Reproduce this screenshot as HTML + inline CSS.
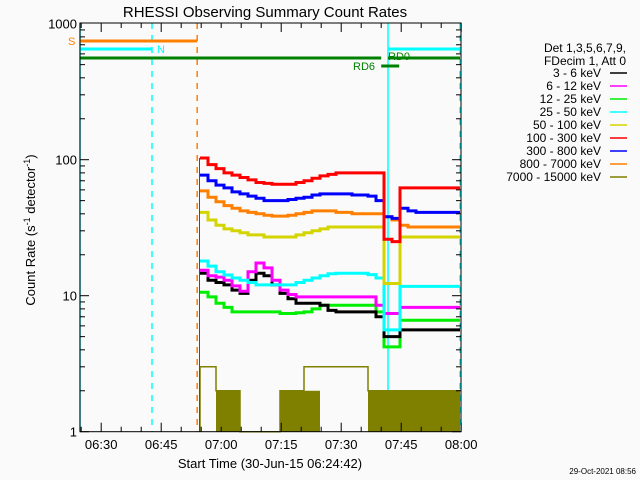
<!DOCTYPE html>
<html><head><meta charset="utf-8"><style>
html,body{margin:0;padding:0;background:#fafafa;}
svg{display:block;font-family:"Liberation Sans",sans-serif;}
</style></head><body>
<svg id="chart" width="640" height="480" viewBox="0 0 640 480">
<rect width="640" height="480" fill="#fafafa"/>
<text x="265" y="17" font-size="15" text-anchor="middle" fill="#000">RHESSI Observing Summary Count Rates</text>
<g id="plot"></g>
<text transform="translate(35,230) rotate(-90)" font-size="13" text-anchor="middle">Count Rate (s<tspan dy="-5" font-size="9">-1</tspan><tspan dy="5"> detector</tspan><tspan dy="-5" font-size="9">-1</tspan><tspan dy="5">)</tspan></text>
<text x="270" y="468" font-size="13" text-anchor="middle">Start Time (30-Jun-15 06:24:42)</text>
<text x="636" y="474" font-size="8" text-anchor="end">29-Oct-2021 08:56</text>
<g id="legend"></g>
</svg>
<script>
// Time bins: minutes since 06:24:42, 2-minute steps starting at 30
const binStart = 30;
const binWidth = 2;
const xTickLabels = ["06:30","06:45","07:00","07:15","07:30","07:45","08:00"];
const xTickMinutes = [5.3,20.3,35.3,50.3,65.3,80.3,95.3];
const yTickLabels = ["1","10","100","1000"];
const yTickValues = [1,10,100,1000];
const seriesNames = ["3 - 6 keV","6 - 12 keV","12 - 25 keV","25 - 50 keV","50 - 100 keV","100 - 300 keV","300 - 800 keV","800 - 7000 keV","7000 - 15000 keV"];
const seriesColors = ["#000000","#ff00ff","#00ee00","#00ffff","#d4d400","#ff0000","#0000ff","#ff8000","#808000"];
const s3_6 = [14.6,13,12.5,12,11,10.4,13,14.6,14,12,10.4,9.5,8.8,8.8,8.8,8.5,7.8,7.6,7.6,7.6,7.6,7.6,7.0,5,5,5.6,5.6,5.6,5.6,5.6,5.6,5.6,5.6];
const s6_12 = [15.4,14,13.7,13,11.8,10.8,15,17.4,16,13,11,10.2,9.8,9.8,9.8,9.8,9.8,9.8,9.8,9.8,9.8,9.8,8.5,7.4,7.4,8.2,8.2,8.2,8.2,8.2,8.2,8.2,8.2];
const s12_25 = [10.6,9.8,8.8,8.2,7.6,7.6,7.6,7.6,7.6,7.6,7.4,7.4,7.5,7.6,8.0,8.5,8.5,8.5,8.5,8.5,8.5,8.5,7.6,4.2,4.2,6.6,6.6,6.6,6.6,6.6,6.6,6.6,6.6];
const s25_50 = [18,16.5,15,14.2,13.5,13,12.5,12,12,12,12,12,12.5,13,13.5,14,14.5,14.6,14.6,14.6,14.6,14.3,13.5,5.6,5.6,11.7,11.7,11.7,11.7,11.7,11.7,11.7,11.7];
const s50_100 = [41,36,33,31,30,29,28,28,27,27,27,27,28,29,30,31,32,32,32,32,32,32,32,12.3,12.3,27,27,27,27,27,27,27,27];
const s100_300 = [103,92,86,80,77,74,71,68,67,66,66,66,68,70,73,76,78,80,80,80,80,80,80,26,25,62,62,62,62,62,62,62,62];
const s300_800 = [77,70,65,62,58,56,54,52,50,50,50,51,52,53,55,56,56,56,56,55,55,54,50,38,37,44,42,41,41,41,41,41,41];
const s800_7000 = [59,53,49,46,44,42,41,40,39,38.5,38.5,39,40,41,42,42,42,41,41,40,40,40,40,38,36,33,32,32,32,32,32,32,32];
const oliveLevel = [3,3,2,2,2,1,1,1,1,1,2,2,2,3,3,3,3,3,3,3,3,2,2,2,2,2,2,2,2,2,2,2,2];
const oliveFill = [0,0,1,1,1,0,0,0,0,0,1,1,1,1,1,0,0,0,0,0,0,1,1,1,1,1,1,1,1,1,1,1,1];

const NS="http://www.w3.org/2000/svg";
const X0=80,X1=461,YT=23,YB=431.7,TEND=95;
function xs(m){return X0+4*Math.min(m,TEND);}
function ys(v){return YB-136*Math.log10(v);}
const plot=document.getElementById('plot');
function mk(tag,attrs,parent){const e=document.createElementNS(NS,tag);for(const k in attrs)e.setAttribute(k,attrs[k]);(parent||plot).appendChild(e);return e;}

const vl=[[0,"#00ffff",null],[18,"#00ffff","6,6"],[29.3,"#ff8000","6,6"],[77,"#00ffff",null],[95,"#00ffff","6,6"]];
vl.forEach(d=>{const e=mk('line',{x1:xs(d[0]),x2:xs(d[0]),y1:YT,y2:YB,stroke:d[1],'stroke-width':1.5,'stroke-dasharray':d[2]||'none'});

});

const bars=[[0,29.3,41,"#ff8000",3],[0,18,49,"#00ffff",3],[77,95,49,"#00ffff",3],[0,75.3,58,"#008000",3],[77,95,58,"#008000",3],[75.3,79.8,66,"#008000",3]];
bars.forEach(b=>{const e=mk('line',{x1:xs(b[0]),x2:xs(b[1]),y1:b[2],y2:b[2],stroke:b[3],'stroke-width':b[4]});

});
const flabels=[[68,45,"S","#ff8000"],[157,53,"N","#00ffff"],[353,70,"RD6","#008000"],[388,60,"RD0","#008000"]];
flabels.forEach(f=>{const t=mk('text',{x:f[0],y:f[1],fill:f[3],'font-size':11});t.textContent=f[2];

});

for(let i=0;i<oliveLevel.length;i++){
  const xa=xs(binStart+binWidth*i),xb=xs(binStart+binWidth*(i+1));
  if(oliveFill[i]){const r=mk('rect',{x:xa,y:ys(2),width:xb-xa,height:YB-ys(2),fill:"#808000"});
    
    }
}
(function(){let d="M"+xs(binStart)+","+YB;
 for(let i=0;i<oliveLevel.length;i++){const y=ys(oliveLevel[i]);d+=" L"+xs(binStart+binWidth*i)+","+y+" L"+xs(binStart+binWidth*(i+1))+","+y;}
 const p=mk('path',{d:d,fill:'none',stroke:'#808000','stroke-width':1.5});
 
 })();

const all=[s3_6,s6_12,s12_25,s25_50,s50_100,s100_300,s300_800,s800_7000];
const ids=["series-3-6-kev","series-6-12-kev","series-12-25-kev","series-25-50-kev","series-50-100-kev","series-100-300-kev","series-300-800-kev","series-800-7000-kev"];
[2,0,1,3,4,7,6,5].forEach(k=>{const arr=all[k];
 // thin rise from bottom
 const r=mk('line',{x1:xs(binStart)-0.5,x2:xs(binStart)-0.5,y1:YB,y2:ys(arr[0]),stroke:seriesColors[k],'stroke-width':1});
 
 
 let d="M"+xs(binStart)+","+ys(arr[0]).toFixed(1);
 for(let i=0;i<arr.length;i++){const y=ys(arr[i]);d+=" L"+xs(binStart+binWidth*i)+","+y.toFixed(1)+" L"+xs(binStart+binWidth*(i+1))+","+y.toFixed(1);}
 const p=mk('path',{d:d,fill:'none',stroke:seriesColors[k],'stroke-width':3});
 
 });

const fr=mk('rect',{x:X0,y:YT,width:X1-X0,height:YB-YT,fill:'none',stroke:'#000','stroke-width':1});


for(let dec=0;dec<3;dec++){for(let k=1;k<10;k++){const v=k*Math.pow(10,dec);const y=ys(v);const L=k===1?9:5;
 mk('line',{x1:X0,x2:X0+L,y1:y,y2:y,stroke:'#000'});mk('line',{x1:X1-L,x2:X1,y1:y,y2:y,stroke:'#000'});}}
yTickValues.forEach((v,i)=>{const t=mk('text',{x:X0-3,y:ys(v)+5,'font-size':13,'text-anchor':'end'});t.textContent=yTickLabels[i];
 
 });
for(let m=0.3;m<=96;m+=5){const x=X0+4*m;const major=Math.abs(((m-5.3)%15+15)%15)<0.01;const L=major?9:5;
 mk('line',{x1:x,x2:x,y1:YB,y2:YB-L,stroke:'#000'});mk('line',{x1:x,x2:x,y1:YT,y2:YT+L,stroke:'#000'});}
xTickMinutes.forEach((m,i)=>{const t=mk('text',{x:X0+4*m,y:449,'font-size':13,'text-anchor':'middle'});t.textContent=xTickLabels[i];
 
 });

const leg=document.getElementById('legend');
const hdr=["Det 1,3,5,6,7,9,","FDecim 1, Att 0"];
hdr.forEach((h,i)=>{const t=mk('text',{x:626,y:52+13*i,'font-size':12,'text-anchor':'end'},leg);t.textContent=h;
 
 });
seriesNames.forEach((n,i)=>{const y=73+13*i;
 const t=mk('text',{x:601,y:y+4,'font-size':12,'text-anchor':'end'},leg);t.textContent=n;
 
 
 const l=mk('line',{x1:610,x2:627,y1:y,y2:y,stroke:seriesColors[i],'stroke-width':1.5},leg);
 
 });
</script>
</body></html>
